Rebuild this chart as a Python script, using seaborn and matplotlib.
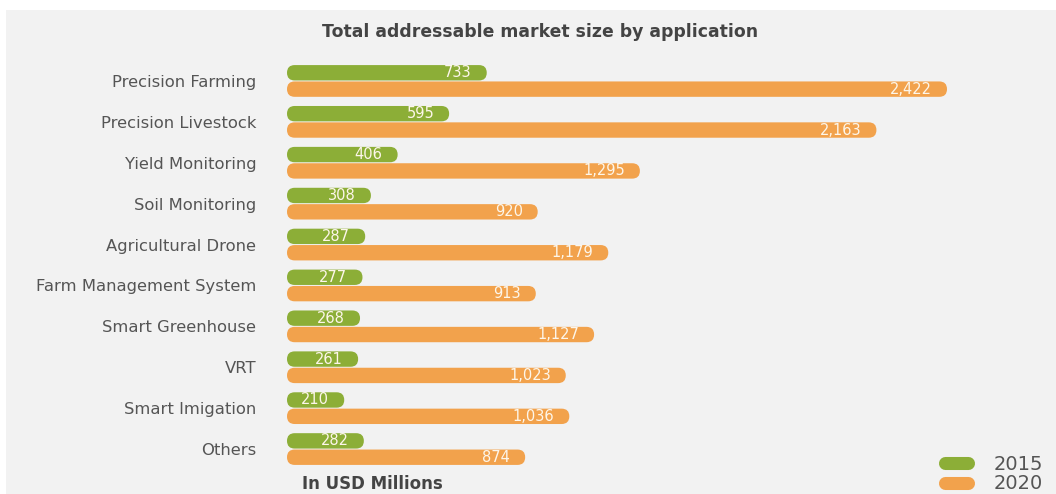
import matplotlib
matplotlib.use("Agg")
import matplotlib.pyplot as plt
from matplotlib.patches import FancyBboxPatch, Rectangle
from matplotlib.lines import Line2D
import pandas as pd
import seaborn as sns

# Market size by application, USD millions
categories = [
    "Precision Farming", "Precision Livestock", "Yield Monitoring",
    "Soil Monitoring", "Agricultural Drone", "Farm Management System",
    "Smart Greenhouse", "VRT", "Smart Imigation", "Others",
]
values_2015 = [733, 595, 406, 308, 287, 277, 268, 261, 210, 282]
values_2020 = [2422, 2163, 1295, 920, 1179, 913, 1127, 1023, 1036, 874]
years = ["2015", "2020"]

GREEN = "#8cae37"
ORANGE = "#f2a24c"
TEXT = "#555555"
DARK = "#444444"
PANEL = "#f2f2f2"

sns.set_theme(style="white")
plt.rcParams["font.family"] = ["DejaVu Sans"]

df = pd.DataFrame({
    "application": categories * 2,
    "value": values_2015 + values_2020,
    "year": [years[0]] * len(categories) + [years[1]] * len(categories),
})

W, H = 1056, 494
fig = plt.figure(figsize=(W / 100, H / 100), dpi=100)
fig.patch.set_facecolor("white")
# light panel behind the chart
fig.patches.append(Rectangle((6 / W, 0), 1 - 6 / W, (H - 10) / H,
                             transform=fig.transFigure, facecolor=PANEL,
                             edgecolor="none", zorder=-5))

ax = fig.add_axes([287 / W, (H - 469.5) / H, 713 / W, 409 / H])
ax.set_facecolor("none")

sns.barplot(data=df, x="value", y="application", hue="year", orient="h",
            palette=[GREEN, ORANGE], width=0.8, legend=False, ax=ax,
            saturation=1)

ax.set_xlim(0, 713 / 0.2725)
ax.set_ylim(len(categories) - 0.5, -0.5)
for s in ax.spines.values():
    s.set_visible(False)
ax.set_xticks([])
ax.set_xlabel("")
ax.set_ylabel("")
ax.tick_params(axis="y", length=0, pad=22, labelsize=11.8, labelcolor=TEXT)

# pixel scale of the data axes
p0 = ax.transData.transform((0, 0))
p1 = ax.transData.transform((1, 1))
px_x = abs(p1[0] - p0[0])
px_y = abs(p1[1] - p0[1])

# swap the plain rectangles for pill-shaped bars
for container in ax.containers:
    for rect in container:
        x, y = rect.get_x(), rect.get_y()
        w, h = rect.get_width(), rect.get_height()
        fc = rect.get_facecolor()
        rect.remove()
        h_in = h * 0.94
        y_in = y + (h - h_in) / 2
        half_px = abs(h_in) * px_y / 2
        rx = half_px / px_x
        aspect = (abs(h_in) / 2) / rx
        pill = FancyBboxPatch((x, min(y_in, y_in + h_in)), w, abs(h_in),
                              boxstyle=f"round,pad=0,rounding_size={rx * 0.999}",
                              mutation_aspect=aspect, facecolor=fc,
                              edgecolor="none", zorder=2)
        ax.add_patch(pill)
        ax.text(x + w - 15 / px_x, y + h / 2, f"{int(round(w)):,}",
                ha="right", va="center", color="#fdf6ea", fontsize=10.5,
                zorder=3)

fig.text(540 / W, 1 - 32 / H, "Total addressable market size by application",
         ha="center", va="center", fontsize=12.4, fontweight="bold", color=DARK)
fig.text(302 / W, 1 - 484 / H, "In USD Millions", ha="left", va="center",
         fontsize=12, fontweight="bold", color=DARK)

handles = [Line2D([0], [0], color=c, lw=9.4, solid_capstyle="round")
           for c in (GREEN, ORANGE)]
fig.legend(handles, years, loc="center left",
           bbox_to_anchor=((940 + 4.5) / W, 1 - 474 / H), frameon=False,
           fontsize=14, labelcolor=TEXT, handlelength=1.2, handletextpad=1.35,
           labelspacing=0.05, borderpad=0, borderaxespad=0)

fig.savefig("out.png", dpi=100, facecolor=fig.get_facecolor())
